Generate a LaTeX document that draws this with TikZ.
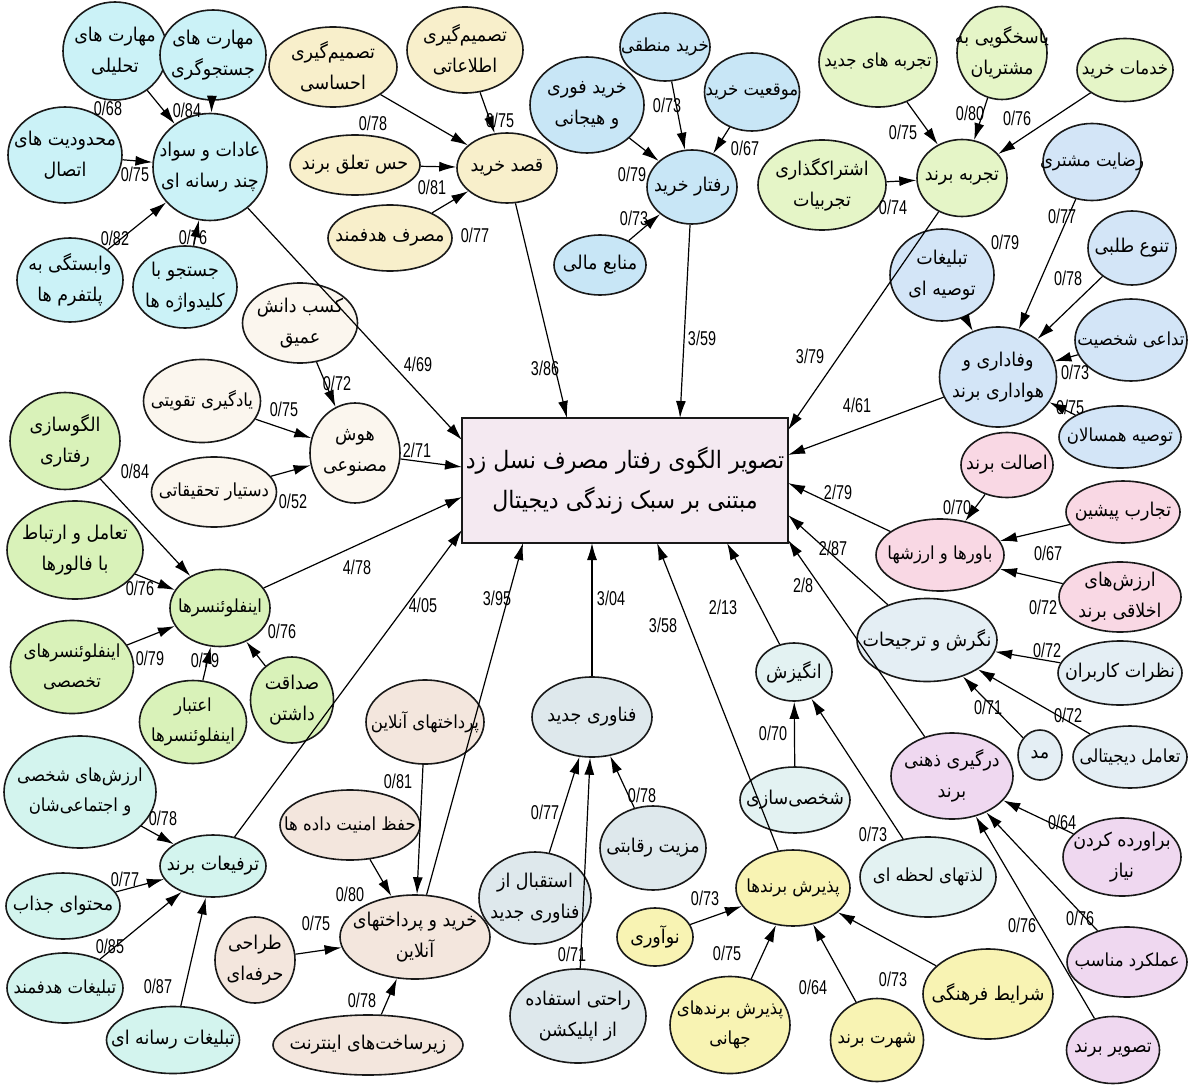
\documentclass[tikz,border=0pt]{standalone}
\usepackage{fontspec}
\usetikzlibrary{arrows.meta,shapes.geometric}
\TeXXeTstate=1
\newfontfamily\arabicfont[Script=Arabic,FakeStretch=0.92]{DejaVu Sans}
\newfontfamily\numfont[FakeStretch=0.72]{Liberation Sans}
\newcommand\fa[1]{{\arabicfont\beginR #1\endR}}
\definecolor{cCyan}{HTML}{CBF2F7}
\definecolor{cBeige}{HTML}{F8EFCB}
\definecolor{cBlue}{HTML}{C8E6F6}
\definecolor{cGreen}{HTML}{E5F5C7}
\definecolor{cLoyal}{HTML}{D3E5F7}
\definecolor{cPink}{HTML}{F9D8E4}
\definecolor{cCenter}{HTML}{F4E9F1}
\definecolor{cAtt}{HTML}{E4EEF4}
\definecolor{cLav}{HTML}{EFD8F0}
\definecolor{cMot}{HTML}{E3F2F2}
\definecolor{cTech}{HTML}{DEE8EC}
\definecolor{cYel}{HTML}{F8F3B3}
\definecolor{cTan}{HTML}{F3E6DD}
\definecolor{cTeal}{HTML}{D3F4EE}
\definecolor{cInf}{HTML}{D9F2B9}
\definecolor{cAI}{HTML}{FBF6EE}
\tikzset{
  ell/.style={ellipse, draw=black!90, line width=1.6pt, inner sep=0pt},
  txt/.style={align=center, inner sep=0pt, font=\fontsize{19}{31}\selectfont},
  small/.style={font=\fontsize{18}{30}\selectfont},
  lab/.style={inner sep=0pt, font=\numfont\fontsize{20}{20}\selectfont},
  arr/.style={-{Latex[length=17pt,width=10pt]}, line width=1.2pt, draw=black},
}
\newcommand\mknode[8][]{%
  \node[ell, fill=#7, minimum width=#5, minimum height=#6] (#2) at (#3,#4) {};
  \node[txt,#1] (#2t) at (#2) {#8};
}
\begin{document}
\begin{tikzpicture}[x=1pt,y=-1pt]
\fill[white] (0,0) rectangle (1188,1086);
\useasboundingbox (0,0) rectangle (1188,1086);

% center
\node[draw=black!90, line width=1.8pt, fill=cCenter, minimum width=326, minimum height=125, inner sep=0pt, align=center, font=\fontsize{24}{40}\selectfont] (c) at (625,480.5) {\fa{تصویر الگوی رفتار مصرف نسل زد}\\\fa{مبتنی بر سبک زندگی دیجیتال}};

% cyan
\mknode{n1}{115}{51}{104}{98}{cCyan}{\fa{مهارت های}\\\fa{تحلیلی}}
\mknode{n2}{213}{55}{106}{90}{cCyan}{\fa{مهارت های}\\\fa{جستجوگری}}
\mknode{n3}{65}{155}{114}{96}{cCyan}{\fa{محدودیت های}\\\fa{اتصال}}
\mknode{n4}{210}{167}{114}{107}{cCyan}{\fa{عادات و سواد}\\\fa{چند رسانه ای}}
\mknode{n5}{70}{280}{106}{84}{cCyan}{\fa{وابستگی به}\\\fa{پلتفرم ها}}
\mknode{n6}{185}{287}{104}{82}{cCyan}{\fa{جستجو با}\\\fa{کلیدواژه ها}}
% beige
\mknode{n7}{333}{67}{128}{80}{cBeige}{\fa{تصمیم‌گیری}\\\fa{احساسی}}
\mknode{n8}{465}{50}{116}{86}{cBeige}{\fa{تصمیم‌گیری}\\\fa{اطلاعاتی}}
\mknode{n9}{355}{165}{130}{60}{cBeige}{\fa{حس تعلق برند}}
\mknode{n10}{390}{238}{124}{66}{cBeige}{\fa{مصرف هدفمند}}
\mknode{n11}{507}{168}{100}{70}{cBeige}{\fa{قصد خرید}}
% blue
\mknode[small]{n12}{665}{47}{90}{68}{cBlue}{\fa{خرید منطقی}}
\mknode{n13}{587}{105}{114}{96}{cBlue}{\fa{خرید فوری}\\\fa{و هیجانی}}
\mknode[small]{n14}{752}{92}{95}{78}{cBlue}{\fa{موقعیت خرید}}
\mknode{n15}{692}{187}{90}{74}{cBlue}{\fa{رفتار خرید}}
\mknode{n16}{600}{265}{92}{60}{cBlue}{\fa{منابع مالی}}
% green
\mknode[small]{n17}{878}{62}{118}{90}{cGreen}{\fa{تجربه های جدید}}
\mknode{n18}{1002}{53}{90}{93}{cGreen}{\fa{پاسخگویی به}\\\fa{مشتریان}}
\mknode[small]{n19}{1125}{70}{96}{63}{cGreen}{\fa{خدمات خرید}}
\mknode{n20}{822}{185}{128}{90}{cGreen}{\fa{اشتراکگذاری}\\\fa{تجربیات}}
\mknode{n21}{962}{178}{90}{77}{cGreen}{\fa{تجربه برند}}
% loyalty
\mknode[small]{n22}{1092}{162}{98}{77}{cLoyal}{\fa{رضایت مشتری}}
\mknode{n23}{942}{275}{104}{92}{cLoyal}{\fa{تبلیغات}\\\fa{توصیه ای}}
\mknode{n24}{1132}{248}{88}{74}{cLoyal}{\fa{تنوع طلبی}}
\mknode[small]{n25}{1131}{340}{112}{82}{cLoyal}{\fa{تداعی شخصیت}}
\mknode{n26}{998}{377}{117}{100}{cLoyal}{\fa{وفاداری و}\\\fa{هواداری برند}}
\mknode[small]{n27}{1120}{437}{122}{62}{cLoyal}{\fa{توصیه همسالان}}
% pink
\mknode{n28}{1007}{465}{92}{65}{cPink}{\fa{اصالت برند}}
\mknode{n29}{1123}{512}{114}{62}{cPink}{\fa{تجارب پیشین}}
\mknode[small]{n30}{940}{555}{128}{72}{cPink}{\fa{باورها و ارزشها}}
\mknode{n31}{1120}{597}{122}{70}{cPink}{\fa{ارزش‌های}\\\fa{اخلاقی برند}}
% attitude
\mknode{n33}{927}{640}{140}{83}{cAtt}{\fa{نگرش و ترجیحات}}
\mknode{n34}{1120}{673}{124}{64}{cAtt}{\fa{نظرات کاربران}}
\mknode{n35}{1040}{755}{44}{50}{cAtt}{\fa{مد}}
\mknode[small]{n36}{1130}{757}{114}{62}{cAtt}{\fa{تعامل دیجیتالی}}
% lavender
\mknode{n37}{952}{776}{122}{86}{cLav}{\fa{درگیری ذهنی}\\\fa{برند}}
\mknode{n38}{1122}{857}{118}{78}{cLav}{\fa{براورده کردن}\\\fa{نیاز}}
\mknode[small]{n39}{1127}{962}{120}{70}{cLav}{\fa{عملکرد مناسب}}
\mknode{n40}{1113}{1050}{93}{67}{cLav}{\fa{تصویر برند}}
% motivation
\mknode{n41}{794}{672}{76}{58}{cMot}{\fa{انگیزش}}
\mknode{n42}{795}{800}{110}{66}{cMot}{\fa{شخصی‌سازی}}
\mknode[small]{n43}{928}{877}{136}{80}{cMot}{\fa{لذتهای لحظه ای}}
% tech
\mknode{n44}{592}{717}{120}{80}{cTech}{\fa{فناوری جدید}}
\mknode{n45}{535}{898}{112}{92}{cTech}{\fa{استقبال از}\\\fa{فناوری جدید}}
\mknode{n46}{653}{848}{106}{84}{cTech}{\fa{مزیت رقابتی}}
\mknode{n47}{578}{1016}{136}{94}{cTech}{\fa{راحتی استفاده}\\\fa{از اپلیکشن}}
% yellow
\mknode[small]{n48}{793}{888}{114}{76}{cYel}{\fa{پذیرش برندها}}
\mknode{n49}{655}{937}{76}{58}{cYel}{\fa{نوآوری}}
\mknode[small]{n50}{730}{1025}{120}{97}{cYel}{\fa{پذیرش برندهای}\\\fa{جهانی}}
\mknode[small]{n51}{877}{1040}{93}{83}{cYel}{\fa{شهرت برند}}
\mknode{n52}{988}{994}{130}{90}{cYel}{\fa{شرایط فرهنگی}}
% tan
\mknode[small]{n53}{425}{722}{118}{84}{cTan}{\fa{پرداختهای آنلاین}}
\mknode[small]{n54}{350}{825}{140}{70}{cTan}{\fa{حفظ امنیت داده ها}}
\mknode{n55}{415}{937}{150}{84}{cTan}{\fa{خرید و پرداختهای}\\\fa{آنلاین}}
\mknode{n56}{255}{960}{80}{86}{cTan}{\fa{طراحی}\\\fa{حرفه‌ای}}
\mknode{n57}{368}{1045}{190}{60}{cTan}{\fa{زیرساخت‌های اینترنت}}
% teal
\mknode[small]{n58}{80}{792}{152}{112}{cTeal}{\fa{ارزش‌های شخصی}\\\fa{و اجتماعی‌شان}}
\mknode{n59}{213}{866}{106}{62}{cTeal}{\fa{ترفیعات برند}}
\mknode{n60}{63}{906}{114}{66}{cTeal}{\fa{محتوای جذاب}}
\mknode[small]{n61}{65}{988}{116}{70}{cTeal}{\fa{تبلیغات هدفمند}}
\mknode{n62}{173}{1040}{133}{67}{cTeal}{\fa{تبلیغات رسانه ای}}
% influencers
\mknode{n63}{65}{441}{110}{97}{cInf}{\fa{الگوسازی}\\\fa{رفتاری}}
\mknode{n64}{75}{550}{136}{98}{cInf}{\fa{تعامل و ارتباط}\\\fa{با فالورها}}
\mknode[small]{n65}{220}{608}{100}{77}{cInf}{\fa{اینفلوئنسرها}}
\mknode[small]{n66}{72}{667}{123}{93}{cInf}{\fa{اینفلوئنسرهای}\\\fa{تخصصی}}
\mknode[small]{n67}{193}{722}{107}{83}{cInf}{\fa{اعتبار}\\\fa{اینفلوئنسرها}}
\mknode{n68}{292}{700}{83}{86}{cInf}{\fa{صداقت}\\\fa{داشتن}}
% AI
\mknode{n69}{300}{323}{115}{80}{cAI}{\fa{کسب دانش}\\\fa{عمیق}}
\mknode[small]{n70}{202}{401}{117}{83}{cAI}{\fa{یادگیری تقویتی}}
\mknode[small]{n71}{214}{492}{125}{70}{cAI}{\fa{دستیار تحقیقاتی}}
\mknode{n72}{355}{453}{90}{100}{cAI}{\fa{هوش}\\\fa{مصنوعی}}

% tips on the central box
\coordinate (t1) at (462,440);
\coordinate (t2) at (462,467);
\coordinate (t3) at (462,497);
\coordinate (t4) at (462,530);
\coordinate (t5) at (567,418);
\coordinate (t6) at (680,418);
\coordinate (t7) at (788,430);
\coordinate (t8) at (788,455);
\coordinate (t9) at (788,483);
\coordinate (t10) at (788,515);
\coordinate (t11) at (788,540);
\coordinate (t12) at (727,543);
\coordinate (t13) at (657,543);
\coordinate (t14) at (592,543);
\coordinate (t15) at (523,543);

% edges
\foreach \s in {n1,n2,n3,n5,n6} \draw[arr] (\s) -- (n4);
\foreach \s in {n7,n8,n9,n10} \draw[arr] (\s) -- (n11);
\foreach \s in {n12,n13,n14,n16} \draw[arr] (\s) -- (n15);
\foreach \s in {n17,n18,n19,n20} \draw[arr] (\s) -- (n21);
\foreach \s in {n22,n23,n24,n25,n27} \draw[arr] (\s) -- (n26);
\foreach \s in {n28,n29,n31} \draw[arr] (\s) -- (n30);
\foreach \s in {n34,n35,n36} \draw[arr] (\s) -- (n33);
\foreach \s in {n38,n39,n40} \draw[arr] (\s) -- (n37);
\foreach \s in {n42,n43} \draw[arr] (\s) -- (n41);
\foreach \s in {n45,n46,n47} \draw[arr] (\s) -- (n44);
\foreach \s in {n49,n50,n51,n52} \draw[arr] (\s) -- (n48);
\foreach \s in {n53,n54,n56,n57} \draw[arr] (\s) -- (n55);
\foreach \s in {n58,n60,n61,n62} \draw[arr] (\s) -- (n59);
\foreach \s in {n63,n64,n66,n67,n68} \draw[arr] (\s) -- (n65);
\foreach \s in {n69,n70,n71} \draw[arr] (\s) -- (n72);
\draw[arr] (n4) -- (t1);
\draw[arr] (n72) -- (t2);
\draw[arr] (n65) -- (t3);
\draw[arr] (n59) -- (t4);
\draw[arr] (n11) -- (t5);
\draw[arr] (n15) -- (t6);
\draw[arr] (n21) -- (t7);
\draw[arr] (n26) -- (t8);
\draw[arr] (n30) -- (t9);
\draw[arr] (n33) -- (t10);
\draw[arr] (n37) -- (t11);
\draw[arr] (n41) -- (t12);
\draw[arr] (n48) -- (t13);
\draw[arr] (n44) -- (t14);
\draw[arr] (n55) -- (t15);

% labels
\node[lab] (l1) at (108,108) {0/68};
\node[lab] (l2) at (187,110) {0/84};
\node[lab] (l3) at (135,174) {0/75};
\node[lab] (l4) at (115,238) {0/82};
\node[lab] (l5) at (193,237) {0/76};
\node[lab] (l6) at (373,123) {0/78};
\node[lab] (l7) at (500,120) {0/75};
\node[lab] (l8) at (432,187) {0/81};
\node[lab] (l9) at (475,235) {0/77};
\node[lab] (l10) at (667,105) {0/73};
\node[lab] (l11) at (745,148) {0/67};
\node[lab] (l12) at (632,174) {0/79};
\node[lab] (l13) at (634,218) {0/73};
\node[lab] (l14) at (903,132) {0/75};
\node[lab] (l15) at (970,113) {0/80};
\node[lab] (l16) at (1017,118) {0/76};
\node[lab] (l17) at (893,207) {0/74};
\node[lab] (l18) at (1062,216) {0/77};
\node[lab] (l19) at (1005,242) {0/79};
\node[lab] (l20) at (1068,278) {0/78};
\node[lab] (l21) at (1075,372) {0/73};
\node[lab] (l22) at (1070,407) {0/75};
\node[lab] (l23) at (957,507) {0/70};
\node[lab] (l24) at (1048,553) {0/67};
\node[lab] (l25) at (1043,607) {0/72};
\node[lab] (l26) at (1047,650) {0/72};
\node[lab] (l27) at (988,707) {0/71};
\node[lab] (l28) at (1068,715) {0/72};
\node[lab] (l29) at (1062,822) {0/64};
\node[lab] (l30) at (1080,918) {0/76};
\node[lab] (l31) at (1022,925) {0/76};
\node[lab] (l32) at (773,733) {0/70};
\node[lab] (l33) at (873,834) {0/73};
\node[lab] (l34) at (723,607) {2/13};
\node[lab] (l35) at (611,598) {3/04};
\node[lab] (l36) at (642,795) {0/78};
\node[lab] (l37) at (545,812) {0/77};
\node[lab] (l38) at (572,954) {0/71};
\node[lab] (l39) at (663,625) {3/58};
\node[lab] (l40) at (705,898) {0/73};
\node[lab] (l41) at (727,953) {0/75};
\node[lab] (l42) at (813,987) {0/64};
\node[lab] (l43) at (893,979) {0/73};
\node[lab] (l44) at (398,781) {0/81};
\node[lab] (l45) at (350,894) {0/80};
\node[lab] (l46) at (316,923) {0/75};
\node[lab] (l47) at (362,1000) {0/78};
\node[lab] (l48) at (497,598) {3/95};
\node[lab] (l49) at (163,818) {0/78};
\node[lab] (l50) at (125,879) {0/77};
\node[lab] (l51) at (110,946) {0/85};
\node[lab] (l52) at (158,986) {0/87};
\node[lab] (l53) at (423,605) {4/05};
\node[lab] (l54) at (135,471) {0/84};
\node[lab] (l55) at (140,588) {0/76};
\node[lab] (l56) at (150,658) {0/79};
\node[lab] (l57) at (205,660) {0/79};
\node[lab] (l58) at (282,631) {0/76};
\node[lab] (l59) at (357,567) {4/78};
\node[lab] (l60) at (337,383) {0/72};
\node[lab] (l61) at (284,409) {0/75};
\node[lab] (l62) at (293,501) {0/52};
\node[lab] (l63) at (417,450) {2/71};
\node[lab] (l64) at (418,364) {4/69};
\node[lab] (l65) at (545,368) {3/86};
\node[lab] (l66) at (702,338) {3/59};
\node[lab] (l67) at (810,356) {3/79};
\node[lab] (l68) at (857,405) {4/61};
\node[lab] (l69) at (838,492) {2/79};
\node[lab] (l70) at (833,548) {2/87};
\node[lab] (l71) at (803,585) {2/8};
\end{tikzpicture}
\end{document}
